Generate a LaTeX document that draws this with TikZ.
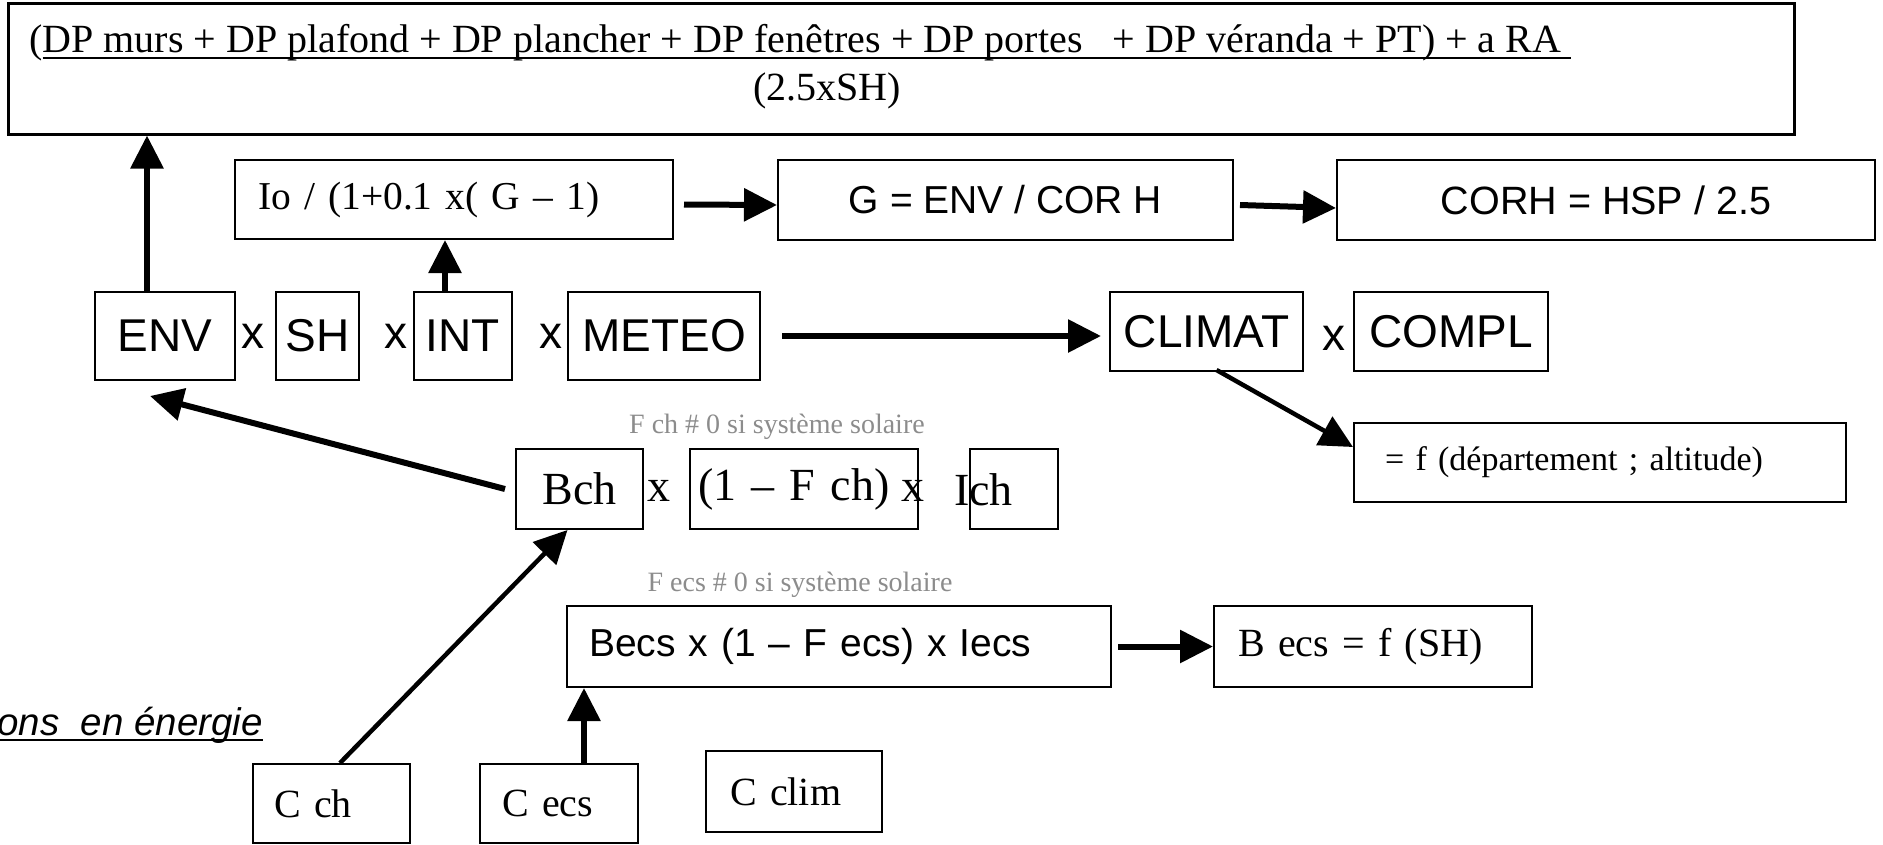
\documentclass[tikz,border=0pt]{standalone}
\usepackage{fontspec}
\setmainfont{Liberation Serif}
\setsansfont{Liberation Sans}
\usetikzlibrary{arrows.meta}

\definecolor{notegray}{gray}{0.55}
\newcommand{\taille}[1]{\fontsize{#1}{#1}\selectfont}
\newcommand{\souligne}[2][-7pt]{\setbox0\hbox{#2}\rlap{\rule[#1]{\wd0}{2.5pt}}\box0}

\tikzset{term/.style = {draw, line width=2pt, rectangle, inner sep=0pt,
                        font=\sffamily\taille{46}},
        lterm/.style = {term, align=left},
        times sign/.style = {inner sep=0pt, font=\sffamily\taille{46}},
        flow/.style = {line width=6pt, -{Triangle[length=33pt,width=32pt]}},
        thin flow/.style = {flow, line width=4.5pt},
        note/.style = {inner sep=0pt, text=notegray, font=\taille{28}},
        }

\begin{document}
\begin{tikzpicture}[x=1pt,y=-1pt]
    \useasboundingbox (0,0) rectangle (1883,844);

    % formule du haut
    \node[term, line width=3pt, minimum width=1786pt, minimum height=131pt] (bilan) at (901,68.5) {};
    \node[anchor=base west, inner sep=0pt, font=\taille{40}] (numer) at (29,52)
        {(\souligne{DP murs + DP plafond + DP plancher + DP fenêtres + DP portes\ \ \ + DP véranda + PT) + a RA\ }};
    \node[anchor=base, inner sep=0pt, font=\taille{40}] (denom) at (827,100) {(2.5xSH)};

    \node[lterm, text width=392pt, inner xsep=23pt, minimum height=79pt, font=\taille{39.5}] (io) at (454,199.5) {Io / (1+0.1 x( G – 1)};
    \node[term, minimum width=455pt, minimum height=80pt, font=\sffamily\taille{39}] (g) at (1005.5,200) {G = ENV / COR H};
    \node[term, minimum width=538pt, minimum height=80pt, font=\sffamily\taille{39.5}] (corh) at (1606,200) {CORH = HSP / 2.5};

    % ligne principale
    \node[term, minimum width=140pt, minimum height=88pt] (env) at (165,336) {ENV};
    \node[times sign] (x1) at (253,336) {x};
    \node[term, minimum width=83pt, minimum height=88pt] (sh) at (317.5,336) {SH};
    \node[times sign] (x2) at (396,336) {x};
    \node[term, minimum width=98pt, minimum height=88pt] (int) at (463,336) {INT};
    \node[times sign] (x3) at (551,336) {x};
    \node[term, minimum width=192pt, minimum height=88pt] (meteo) at (664,336) {METEO};
    \node[term, minimum width=193pt, minimum height=79pt] (climat) at (1206.5,331.5) {CLIMAT};
    \node[times sign] (x4) at (1334,338) {x};
    \node[term, minimum width=194pt, minimum height=79pt] (compl) at (1451,331.5) {COMPL};

    \node[lterm, text width=430pt, inner xsep=31pt, minimum height=79pt, font=\taille{34}] (dept) at (1600,462.5) {= f (département ; altitude)};

    % chauffage
    \node[note] (fchnote) at (777,427) {F ch \# 0 si système solaire};
    \node[term, minimum width=127pt, minimum height=80pt, font=\taille{46}] (bch) at (579.5,489) {Bch};
    \node[times sign, font=\taille{46}] (x5) at (659,491) {x};
    \node[lterm, text width=212pt, inner xsep=8pt, minimum height=80pt, font=\taille{46}] (unmoins) at (804,489) {(1 – F ch)};
    \node[times sign, font=\taille{46}] (x6) at (913,491) {x};
    \node[term, minimum width=88pt, minimum height=80pt] (ich) at (1014,489) {};
    \node[anchor=base west, inner sep=0pt, font=\taille{46}] (ichtext) at (954,505) {Ich};

    % ecs
    \node[note] (fecsnote) at (800,585) {F ecs \# 0 si système solaire};
    \node[lterm, text width=500pt, inner xsep=22pt, minimum height=81pt, font=\sffamily\taille{39}] (becs) at (839,646.5) {Becs x (1 – F ecs) x Iecs};
    \node[lterm, text width=270pt, inner xsep=24pt, minimum height=81pt, font=\taille{40}] (becsf) at (1373,646.5) {B ecs = f (SH)};

    % consommations
    \node[anchor=base east, inner sep=0pt, font=\sffamily\itshape\taille{38.5}] (conso) at (263,735) {\souligne[-6pt]{ons\ \ en énergie}};
    \node[lterm, text width=115pt, inner xsep=21pt, minimum height=79pt, font=\taille{40}] (cch) at (331.5,803.5) {C ch};
    \node[lterm, text width=114pt, inner xsep=22pt, minimum height=79pt, font=\taille{40}] (cecs) at (559,803.5) {C ecs};
    \node[lterm, text width=128pt, inner xsep=24pt, minimum height=81pt, font=\taille{40}] (cclim) at (794,791.5) {C clim};

    \draw[flow] ([xshift=-18pt]env.north) -- ([xshift=-18pt]env.north |- bilan.south);
    \draw[flow] ([xshift=-18pt]int.north) -- ([xshift=-18pt]int.north |- io.south);
    \draw[flow] ([xshift=10pt,yshift=-5pt]io.east) -- ([yshift=-5pt]g.west);
    \draw[flow] ([xshift=6pt,yshift=-5pt]g.east) -- ([yshift=-8pt]corh.west);
    \draw[flow] ([xshift=21pt]meteo.east) -- ([xshift=-8pt]climat.west |- meteo.east);
    \draw[thin flow] ([xshift=10pt,yshift=2pt]climat.south) -- ([yshift=15.5pt]dept.west);
    \draw[flow] ([xshift=-10pt]bch.west) -- ([xshift=-15pt,yshift=-15pt]env.south);
    \draw[thin flow] ([xshift=8.5pt]cch.north) -- ([xshift=-12pt]bch.south);
    \draw[flow] ([xshift=25pt]cecs.north) -- ([xshift=25pt]cecs.north |- becs.south);
    \draw[flow] ([xshift=6pt]becs.east) -- (becsf.west);
\end{tikzpicture}
\end{document}
